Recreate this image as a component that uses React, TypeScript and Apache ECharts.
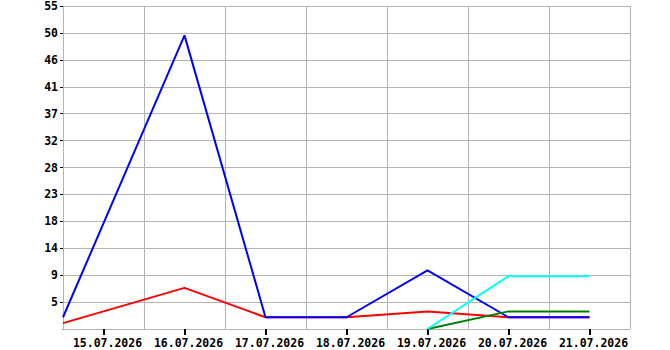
import React, { useEffect, useRef } from "react";
import * as echarts from "echarts";

const categories = ["15.07.2026", "16.07.2026", "17.07.2026", "18.07.2026", "19.07.2026", "20.07.2026", "21.07.2026"];
// day offsets of the plotted points (the first sample is drawn at the left edge of the plot)
const pointDays = [-0.5, 1, 2, 3, 4, 5, 6];
const redValues = [1, 7, 2, 2, 3, 2, 2];
const blueValues = [2, 50, 2, 2, 10, 2, 2];
const greenValues = [null, null, null, null, 0, 3, 3];
const cyanValues = [null, null, null, null, 0, 9, 9];
const yMax = 55;
const ySteps = 12;

export default function App() {
  const ref = useRef<HTMLDivElement>(null);
  useEffect(() => {
    if (!ref.current) return;
    const chart = echarts.init(ref.current, null, { renderer: "svg" });
    const gridColor = "#b4b4b4";
    const font = "'DejaVu Sans Mono', monospace";
    const mk = (name: string, vals: (number | null)[], color: string) => ({
      name,
      type: "line",
      xAxisIndex: 1,
      data: vals.map((v, i) => (v === null ? [pointDays[i], null] : [pointDays[i], v])),
      showSymbol: false,
      symbol: "none",
      connectNulls: false,
      lineStyle: { color, width: 2 },
      itemStyle: { color },
    });
    chart.setOption({
      animation: false,
      backgroundColor: "#ffffff",
      grid: { left: 63, top: 5, right: 40, bottom: 21, containLabel: false },
      xAxis: [
        {
          type: "category",
          data: categories,
          boundaryGap: true,
          axisLine: { show: true, onZero: false, lineStyle: { color: gridColor, width: 1 } },
          axisTick: { show: true, alignWithLabel: true, length: 6, lineStyle: { color: "#000", width: 2 } },
          axisLabel: {
            color: "#000",
            fontFamily: font,
            fontWeight: "bold",
            fontSize: 11.5,
            margin: 8,
            padding: [0, 0, 0, 8],
            interval: 0,
          },
          splitLine: { show: true, interval: 0, lineStyle: { color: gridColor, width: 1 } },
        },
        {
          type: "value",
          min: -0.5,
          max: categories.length - 0.5,
          show: false,
          axisLine: { show: false, onZero: false },
          axisTick: { show: false },
          axisLabel: { show: false },
          splitLine: { show: false },
        },
      ],
      yAxis: {
        type: "value",
        min: 0,
        max: yMax,
        interval: yMax / ySteps,
        axisLine: { show: true, onZero: false, lineStyle: { color: gridColor, width: 1 } },
        axisTick: { show: true, length: 3, lineStyle: { color: "#000", width: 1 } },
        axisLabel: {
          color: "#000",
          fontFamily: font,
          fontWeight: "bold",
          fontSize: 11.5,
          margin: 5,
          formatter: (v: number) => (v < 1e-6 ? "" : String(Math.round(v + 1e-6))),
        },
        splitLine: { show: true, lineStyle: { color: gridColor, width: 1 } },
      },
      graphic: [
        { type: "rect", left: 57, top: 327.5, shape: { width: 5.5, height: 3 }, style: { fill: "#fff" }, z: 100 },
      ],
      series: [
        mk("red", redValues, "#ff0000"),
        mk("blue", blueValues, "#0000ff"),
        mk("green", greenValues, "#008000"),
        mk("cyan", cyanValues, "#00ffff"),
      ],
    });
    return () => chart.dispose();
  }, []);
  return (
    <div
      ref={ref}
      style={{ position: "fixed", left: 0, top: 0, width: 670, height: 350, background: "#fff" }}
    />
  );
}
